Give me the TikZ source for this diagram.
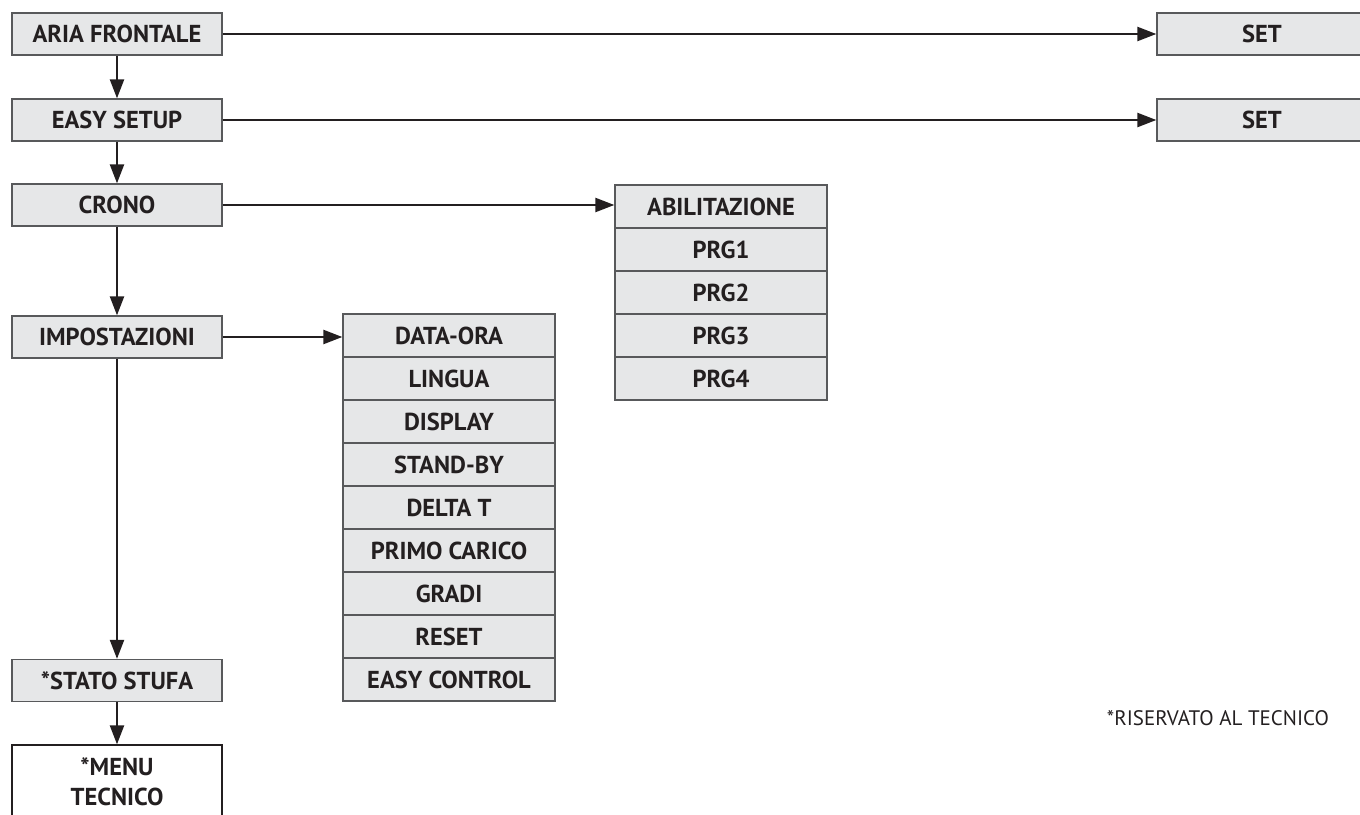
\documentclass[tikz,border=0pt]{standalone}
\usepackage{fontspec}
\setmainfont{PT Sans}
\usetikzlibrary{arrows.meta,positioning}
\definecolor{boxfill}{HTML}{E6E7E8}
\definecolor{boxline}{HTML}{58595B}
\definecolor{ink}{HTML}{231F20}
\tikzset{
  menubox/.style={draw=boxline, line width=1.3pt, fill=boxfill, minimum width=210pt,
    minimum height=42pt, inner sep=0pt, text=ink, font=\fontsize{24.5}{27}\selectfont\bfseries},
  listrow/.style={menubox, minimum width=212pt, minimum height=43pt},
  flow/.style={draw=ink, line width=2.3pt, -{Triangle[length=19pt,width=14pt]}}
}
\begin{document}
\begin{tikzpicture}[x=1pt,y=-1pt]
\useasboundingbox (0,0) rectangle (1360,814);
\clip (0,0) rectangle (1360,814);
% main column
\node[menubox] (aria)   at (117,34)    {ARIA FRONTALE};
\node[menubox] (easy)   at (117,120)   {EASY SETUP};
\node[menubox] (crono)  at (117,205)   {CRONO};
\node[menubox] (impost) at (117,337)   {IMPOSTAZIONI};
\node[menubox] (stato)  at (117,680.5) {*STATO STUFA};
\node[menubox, fill=white, draw=ink, minimum height=74pt, align=center,
      font=\fontsize{24.5}{30}\selectfont\bfseries] (menu) at (117,782) {*MENU\\TECNICO};
% SET boxes on the right
\node[menubox] (set1) at (1262,34)  {SET};
\node[menubox] (set2) at (1262,120) {SET};
% CRONO submenu
\foreach \t [count=\i] in {ABILITAZIONE,PRG1,PRG2,PRG3,PRG4}
  \node[listrow] (c\i) at (721,{185+43*(\i-0.5)}) {\t};
% IMPOSTAZIONI submenu
\foreach \t [count=\i] in {DATA-ORA,LINGUA,DISPLAY,STAND-BY,DELTA T,PRIMO CARICO,GRADI,RESET,EASY CONTROL}
  \node[listrow] (s\i) at (449,{314+43*(\i-0.5)}) {\t};
% connectors
\draw[flow] (aria.south) -- (easy.north);
\draw[flow] (easy.south) -- (crono.north);
\draw[flow] (crono.south) -- (impost.north);
\draw[flow] (impost.south) -- (stato.north);
\draw[flow] (stato.south) -- (menu.north);
\draw[flow] (aria.east) -- (set1.west);
\draw[flow] (easy.east) -- (set2.west);
\draw[flow] (crono.east) -- (crono.east -| c1.west);
\draw[flow] (impost.east) -- (impost.east -| s1.west);
% footnote
\node[text=ink, font=\fontsize{21}{24}\selectfont, inner sep=0pt] (note) at (1218,718) {*RISERVATO AL TECNICO};
\end{tikzpicture}
\end{document}
